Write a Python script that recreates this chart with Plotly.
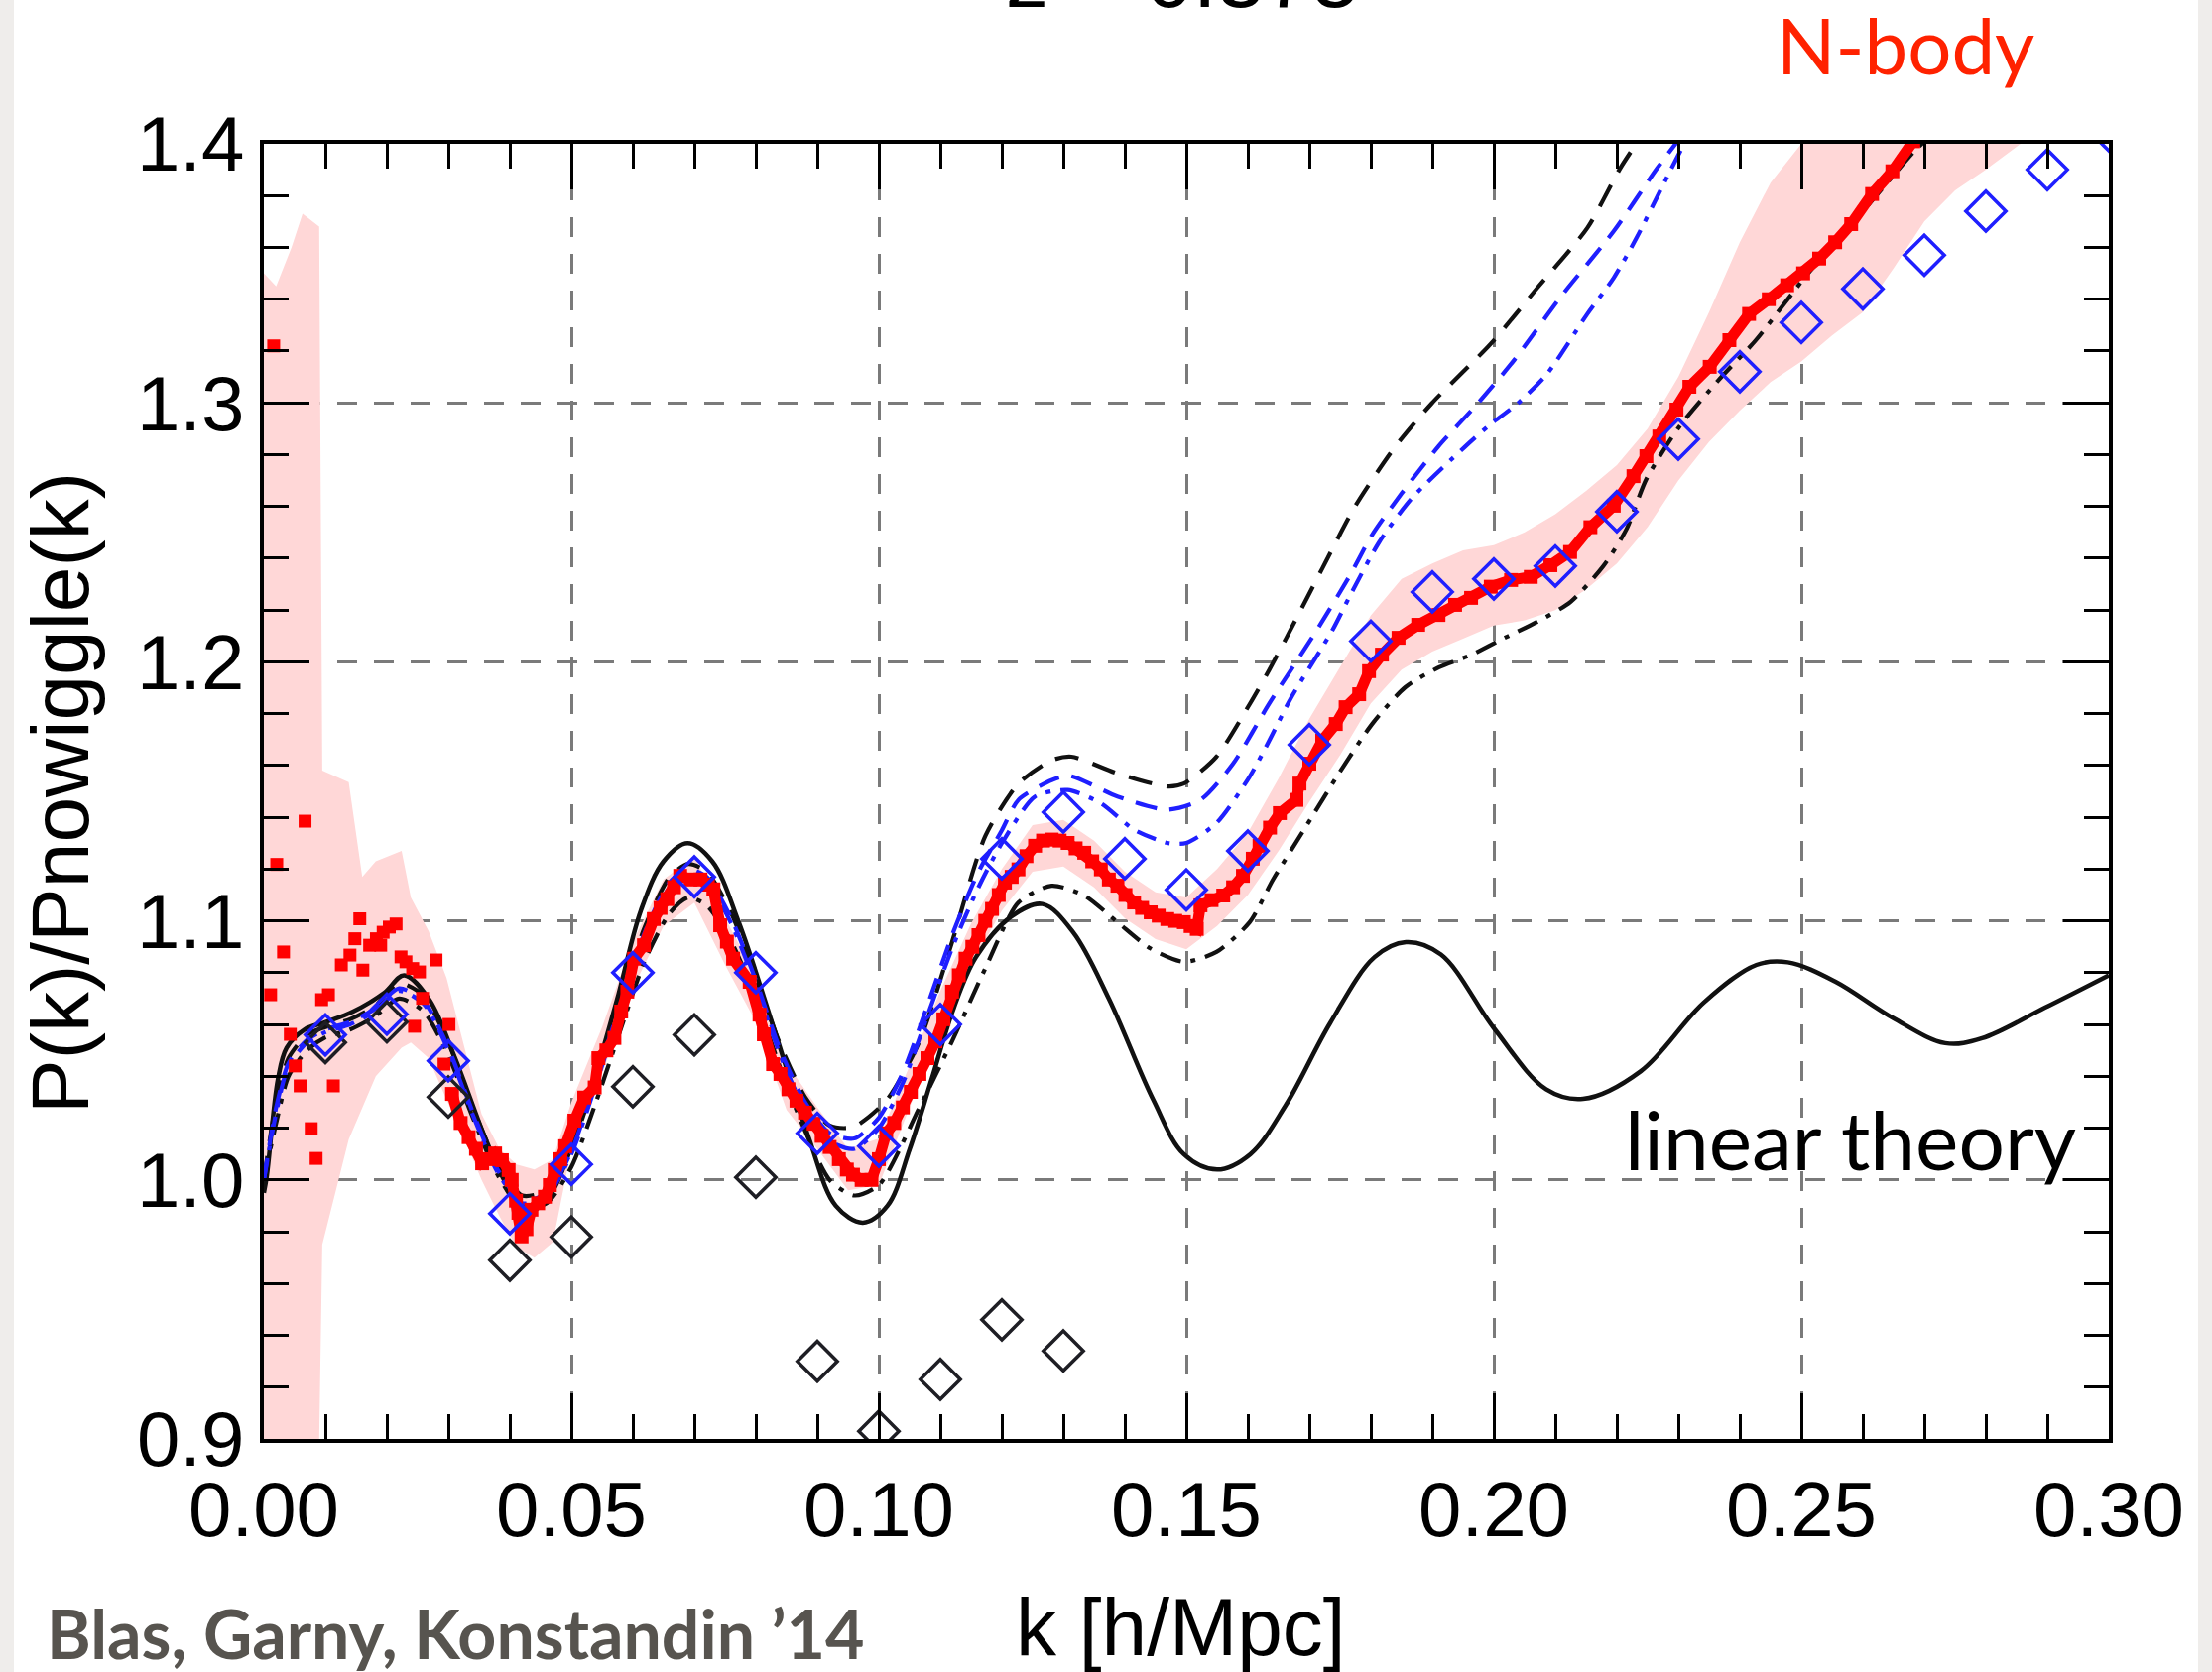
import plotly.graph_objects as go

# ---------------- data ----------------
# linear theory (solid black)
lin_k = [0.0, 0.0005, 0.0023, 0.0037, 0.0066, 0.0102, 0.0145, 0.0196, 0.0228, 0.0268, 0.0311, 0.0361, 0.0398,
         0.0434, 0.047, 0.0498, 0.0542, 0.0577, 0.0613, 0.065, 0.0689, 0.0729, 0.0772, 0.083, 0.0887, 0.093,
         0.0974, 0.1014, 0.105, 0.1086, 0.1122, 0.1158, 0.1215, 0.1266, 0.1316, 0.1374, 0.1446, 0.1496, 0.155,
         0.1604, 0.1662, 0.1734, 0.1806, 0.1857, 0.1914, 0.2, 0.2085, 0.2145, 0.2239, 0.2341, 0.2427, 0.2478,
         0.2555, 0.2649, 0.2734, 0.2794, 0.2896, 0.3]
lin_v = [0.995, 1.002, 1.039, 1.051, 1.058, 1.061, 1.065, 1.0723, 1.079, 1.070, 1.047, 1.0156, 0.997,
         0.988, 0.996, 1.012, 1.043, 1.072, 1.104, 1.123, 1.130, 1.123, 1.0996, 1.058, 1.0156, 0.990,
         0.9835, 0.990, 1.0118, 1.039, 1.0665, 1.086, 1.1016, 1.1065, 1.0956, 1.070, 1.031, 1.0099, 1.004,
         1.0099, 1.029, 1.0606, 1.086, 1.0918, 1.087, 1.0586, 1.035, 1.0313, 1.042, 1.0684, 1.083, 1.084,
         1.0766, 1.0625, 1.0528, 1.0547, 1.0665, 1.079]

# upper black dashed model
bd_k = [0.0, 0.002, 0.004, 0.007, 0.01, 0.014, 0.018, 0.022, 0.026, 0.03, 0.034, 0.038, 0.042, 0.046, 0.05,
        0.054, 0.058, 0.062, 0.066, 0.069, 0.072, 0.076, 0.08, 0.084, 0.088, 0.092, 0.0958, 0.1012, 0.1066,
        0.1119, 0.1173, 0.1227, 0.1281, 0.1313, 0.1388, 0.1469, 0.1496, 0.1549, 0.1603, 0.1635, 0.1662,
        0.1721, 0.1775, 0.184, 0.1899, 0.1995, 0.2071, 0.2152, 0.2205, 0.2237]
bd_v = [1.0, 1.03, 1.047, 1.056, 1.059, 1.062, 1.067, 1.076, 1.071, 1.053, 1.028, 1.006, 0.994, 0.996, 1.012,
        1.04, 1.07, 1.098, 1.117, 1.122, 1.119, 1.103, 1.078, 1.052, 1.032, 1.021, 1.0204, 1.0306, 1.0535,
        1.0918, 1.1327, 1.153, 1.162, 1.1634, 1.1569, 1.1519, 1.153, 1.1634, 1.1837, 1.197, 1.209,
        1.236, 1.2603, 1.2832, 1.2998, 1.3228, 1.3445, 1.3675, 1.3904, 1.402]

# blue dashed model
bl_k = [0.0, 0.002, 0.004, 0.007, 0.01, 0.014, 0.018, 0.022, 0.026, 0.03, 0.034, 0.038, 0.042, 0.046, 0.05,
        0.054, 0.058, 0.062, 0.066, 0.069, 0.072, 0.076, 0.08, 0.084, 0.088, 0.092, 0.096, 0.1, 0.104, 0.108,
        0.112, 0.116, 0.12, 0.1227, 0.1281, 0.131, 0.1388, 0.1469, 0.1523, 0.1576, 0.1635, 0.1711, 0.1765,
        0.1802, 0.185, 0.191, 0.1974, 0.2033, 0.2108, 0.2195, 0.2265, 0.2302]
bl_v = [1.0, 1.028, 1.045, 1.054, 1.058, 1.061, 1.066, 1.074, 1.069, 1.051, 1.026, 1.004, 0.992, 0.995, 1.011,
        1.039, 1.068, 1.096, 1.115, 1.12, 1.117, 1.101, 1.077, 1.05, 1.03, 1.018, 1.016, 1.024, 1.042, 1.068,
        1.095, 1.118, 1.135, 1.1467, 1.1543, 1.156, 1.148, 1.1429, 1.1467, 1.1607, 1.184, 1.2118, 1.233,
        1.249, 1.265, 1.2832, 1.2998, 1.3165, 1.3407, 1.3663, 1.3904, 1.402]

# blue dash-dot model
bdd_k = [0.0, 0.002, 0.004, 0.007, 0.01, 0.014, 0.018, 0.022, 0.026, 0.03, 0.034, 0.038, 0.042, 0.046, 0.05,
         0.054, 0.058, 0.062, 0.066, 0.069, 0.072, 0.076, 0.08, 0.084, 0.088, 0.092, 0.096, 0.1, 0.104, 0.108,
         0.112, 0.116, 0.12, 0.1254, 0.1307, 0.1361, 0.1415, 0.1469, 0.15, 0.1549, 0.1603, 0.1635, 0.167,
         0.1737, 0.1765, 0.1813, 0.1866, 0.1953, 0.1996, 0.2039, 0.2087, 0.2152, 0.2195, 0.2232, 0.2275, 0.232]
bdd_v = [1.0, 1.026, 1.044, 1.053, 1.057, 1.06, 1.065, 1.073, 1.068, 1.05, 1.025, 1.003, 0.991, 0.994, 1.01,
         1.037, 1.066, 1.094, 1.113, 1.118, 1.115, 1.099, 1.075, 1.048, 1.027, 1.015, 1.012, 1.02, 1.038, 1.064,
         1.09, 1.112, 1.13, 1.148, 1.1505, 1.1454, 1.1352, 1.1301, 1.1301, 1.1378, 1.1557, 1.1697, 1.186,
         1.212, 1.225, 1.246, 1.263, 1.283, 1.292, 1.2998, 1.3113, 1.3343, 1.3483, 1.3637, 1.384, 1.405]

# lower black dash-dot model
kdd_k = [0.0, 0.002, 0.004, 0.007, 0.01, 0.014, 0.018, 0.022, 0.026, 0.03, 0.034, 0.038, 0.042, 0.046, 0.05,
         0.054, 0.058, 0.062, 0.066, 0.069, 0.072, 0.076, 0.08, 0.084, 0.088, 0.092, 0.096, 0.1, 0.1066, 0.1119,
         0.1173, 0.1227, 0.1281, 0.1334, 0.1388, 0.1442, 0.1496, 0.1549, 0.1603, 0.1641, 0.1695, 0.1748,
         0.1802, 0.1856, 0.191, 0.1963, 0.2017, 0.2071, 0.2125, 0.2179, 0.2216, 0.2248, 0.2302, 0.2366,
         0.2426, 0.2511, 0.2598, 0.2682, 0.2705]
kdd_v = [1.0, 1.022, 1.04, 1.05, 1.055, 1.058, 1.063, 1.07, 1.065, 1.048, 1.024, 1.002, 0.989, 0.991, 1.005,
         1.03, 1.058, 1.085, 1.103, 1.109, 1.106, 1.092, 1.07, 1.043, 1.019, 1.0, 0.994, 0.998, 1.028, 1.0535,
         1.0816, 1.1071, 1.1136, 1.1098, 1.0995, 1.0893, 1.0842, 1.088, 1.0995, 1.116, 1.1366, 1.1569,
         1.176, 1.1902, 1.1978, 1.2027, 1.2092, 1.2155, 1.2232, 1.2373, 1.2514, 1.2706, 1.2909, 1.3089,
         1.3242, 1.35, 1.3733, 1.3967, 1.402]

# N-body: scattered low-k points
nbs_k = [0.0011, 0.0016, 0.0021, 0.0032, 0.0043, 0.0051, 0.0059, 0.0067, 0.0077, 0.0085, 0.0094, 0.0105, 0.0113,
         0.0126, 0.014, 0.0148, 0.0156, 0.0161, 0.0172, 0.0183, 0.019, 0.0194, 0.0204, 0.0215, 0.0223, 0.0231,
         0.0242, 0.0245, 0.0253, 0.0258, 0.028, 0.0293, 0.0301]
nbs_v = [1.0715, 1.322, 1.1218, 1.088, 1.0562, 1.044, 1.0363, 1.1385, 1.0198, 1.0083, 1.0696, 1.0715, 1.0363,
         1.083, 1.0868, 1.0931, 1.1008, 1.081, 1.0906, 1.0931, 1.0906, 1.0956, 1.0976, 1.0988, 1.0861, 1.0842,
         1.0816, 1.0593, 1.0803, 1.0701, 1.0849, 1.0447, 1.06]

# N-body: dense points
nb_k = [0.0306, 0.032, 0.0333, 0.0345, 0.0355, 0.0366, 0.0376, 0.0387, 0.0398, 0.0403, 0.041, 0.0414, 0.0419,
        0.0427, 0.0435, 0.0446, 0.0457, 0.0465, 0.0473, 0.0482, 0.049, 0.0505, 0.0521, 0.0538, 0.0544, 0.0557,
        0.057, 0.0581, 0.0591, 0.0602, 0.0618, 0.0634, 0.0645, 0.0656, 0.0667, 0.0677, 0.0694, 0.071, 0.0722,
        0.0731, 0.0742, 0.0753, 0.0763, 0.079, 0.0806, 0.0813, 0.0828, 0.084, 0.0853, 0.0866, 0.088, 0.0894,
        0.0907, 0.092, 0.0935, 0.0948, 0.0958, 0.0972, 0.0988, 0.1, 0.1012, 0.1025, 0.1039, 0.1052, 0.1066,
        0.1079, 0.1092, 0.1105, 0.1119, 0.113, 0.1141, 0.1152, 0.1162, 0.1173, 0.1184, 0.1195, 0.1205, 0.1216,
        0.1227, 0.124, 0.1254, 0.1267, 0.1281, 0.1294, 0.1307, 0.132, 0.1334, 0.1347, 0.1361, 0.1374, 0.1388,
        0.1401, 0.1415, 0.1428, 0.1442, 0.1455, 0.1469, 0.1482, 0.1496, 0.1507, 0.1517, 0.1523, 0.1541, 0.156,
        0.1576, 0.1592, 0.1608, 0.1619, 0.1636, 0.1652, 0.1679, 0.1684, 0.17, 0.1721, 0.1743, 0.1759, 0.1781,
        0.1797, 0.1818, 0.1845, 0.1877, 0.191, 0.1937, 0.1963, 0.1995, 0.2028, 0.206, 0.2092, 0.2124, 0.2157,
        0.2195, 0.2227, 0.2248, 0.2269, 0.2297, 0.2318, 0.2351, 0.2383, 0.2415, 0.2447, 0.2477, 0.2503, 0.2529,
        0.2555, 0.2581, 0.2615, 0.2648, 0.2682]
nb_v = [1.0332, 1.022, 1.0165, 1.012, 1.0064, 1.008, 1.0102, 1.0076, 1.0038, 1.0, 0.992, 0.9873, 0.9782,
        0.981, 0.9885, 0.991, 0.9935, 0.998, 1.0038, 1.008, 1.013, 1.0229, 1.0318, 1.0357, 1.047, 1.05,
        1.0548, 1.065, 1.0727, 1.0854, 1.0906, 1.1007, 1.105, 1.1084, 1.113, 1.1174, 1.116, 1.116, 1.114,
        1.1122, 1.0983, 1.092, 1.0854, 1.0765, 1.0638, 1.0562, 1.0447, 1.0409, 1.035, 1.0306, 1.026, 1.0217,
        1.017, 1.0127, 1.008, 1.004, 1.002, 1.0, 1.0, 1.008, 1.018, 1.022, 1.028, 1.034, 1.0409,
        1.047, 1.0535, 1.062, 1.0727, 1.079, 1.0854, 1.09, 1.0945, 1.1, 1.1046, 1.11, 1.1148, 1.117,
        1.1199, 1.125, 1.129, 1.131, 1.1314, 1.131, 1.1301, 1.128, 1.1263, 1.123, 1.1199, 1.116, 1.1136,
        1.11, 1.1071, 1.105, 1.1033, 1.102, 1.1007, 1.1, 1.0995, 1.098, 1.0969, 1.106, 1.108, 1.1098,
        1.113, 1.1174, 1.124, 1.129, 1.136, 1.1416, 1.1467, 1.153, 1.1607, 1.1696, 1.176, 1.1825, 1.1875,
        1.1964, 1.2028, 1.2093, 1.2143, 1.2181, 1.222, 1.2247, 1.229, 1.2316, 1.2328, 1.2373, 1.2424, 1.252,
        1.2603, 1.2717, 1.2794, 1.287, 1.2974, 1.3062, 1.3139, 1.3242, 1.3343, 1.34, 1.3454, 1.35, 1.3557,
        1.362, 1.369, 1.3806, 1.3894, 1.401]

# N-body error band
band_k = [0.0, 0.002, 0.0045, 0.0063, 0.009, 0.0095, 0.0138, 0.016, 0.0182, 0.0224, 0.0239, 0.0268, 0.0297,
          0.0326, 0.0354, 0.0383, 0.0411, 0.044, 0.047, 0.05, 0.055, 0.06, 0.065, 0.07, 0.075, 0.08, 0.085,
          0.09, 0.095, 0.1, 0.105, 0.11, 0.115, 0.12, 0.125, 0.13, 0.135, 0.14, 0.145, 0.15, 0.155, 0.16,
          0.165, 0.17, 0.175, 0.18, 0.185, 0.19, 0.195, 0.2, 0.205, 0.21, 0.215, 0.22, 0.225, 0.23, 0.235,
          0.24, 0.245, 0.25, 0.255, 0.26, 0.265, 0.27, 0.275, 0.28, 0.2862]
band_hi = [1.35, 1.345, 1.36, 1.373, 1.368, 1.158, 1.1535, 1.117, 1.123, 1.127, 1.109, 1.096, 1.078,
           1.051, 1.0255, 1.012, 1.006, 1.004, 1.008, 1.03, 1.059, 1.092, 1.116, 1.125, 1.101, 1.079, 1.045,
           1.028, 1.012, 1.016, 1.044, 1.073, 1.099, 1.12, 1.137, 1.139, 1.131, 1.119, 1.111, 1.109, 1.12, 1.134,
           1.155, 1.178, 1.198, 1.218, 1.232, 1.238, 1.243, 1.245, 1.25, 1.257, 1.266, 1.276, 1.29, 1.31, 1.335,
           1.362, 1.385, 1.40, 1.42, 1.42, 1.42, 1.42, 1.42, 1.42, 1.42]
band_lo = [0.9, 0.9, 0.9, 0.9, 0.9, 0.975, 1.0156, 1.028, 1.04, 1.051, 1.053, 1.047, 1.031,
           1.016, 1.0, 0.986, 0.974, 0.970, 0.976, 1.012, 1.041, 1.074, 1.098, 1.107, 1.083, 1.061, 1.027,
           1.012, 0.996, 0.998, 1.028, 1.057, 1.083, 1.104, 1.119, 1.121, 1.113, 1.101, 1.093, 1.089, 1.098, 1.11,
           1.127, 1.146, 1.164, 1.184, 1.197, 1.204, 1.209, 1.214, 1.216, 1.22, 1.228, 1.238, 1.252, 1.27, 1.285,
           1.297, 1.308, 1.316, 1.326, 1.335, 1.352, 1.37, 1.382, 1.39, 1.401]

# blue open diamonds
bdia_k = [0.01, 0.02, 0.03, 0.04, 0.05, 0.06, 0.07, 0.08, 0.09, 0.10, 0.11, 0.12, 0.13, 0.14, 0.15, 0.16,
          0.17, 0.18, 0.19, 0.20, 0.21, 0.22, 0.23, 0.24, 0.25, 0.26, 0.27, 0.28, 0.29, 0.30]
bdia_v = [1.056, 1.064, 1.046, 0.987, 1.006, 1.080, 1.117, 1.080, 1.018, 1.013, 1.060, 1.124, 1.142, 1.124,
          1.112, 1.127, 1.168, 1.208, 1.227, 1.232, 1.237, 1.258, 1.286, 1.312, 1.331, 1.344, 1.357, 1.374,
          1.390, 1.405]

# black open diamonds
kdia_k = [0.01, 0.02, 0.03, 0.04, 0.05, 0.06, 0.07, 0.08, 0.09, 0.10, 0.11, 0.12, 0.13]
kdia_v = [1.053, 1.061, 1.032, 0.969, 0.978, 1.036, 1.056, 1.001, 0.930, 0.903, 0.923, 0.946, 0.934]

x_range = [0.0, 0.30]
y_range = [0.9, 1.4]

# ---------------- layout geometry (pixels) ----------------
W, H = 2230, 1686
ML, MR, MT, MB = 266, 104, 145, 235
PW, PH = W - ML - MR, H - MT - MB


def px_x(px):
    return (px - ML) / PW


def px_y(py):
    return (H - MB - py) / PH


RED = '#ff0000'
BLUE = '#1f1fff'
BLACK = '#111111'

fig = go.Figure()

# error band
fig.add_trace(go.Scatter(
    x=band_k + band_k[::-1], y=band_hi + band_lo[::-1],
    fill='toself', fillcolor='#ffd7d7', line=dict(width=0, color='rgba(0,0,0,0)'),
    mode='lines', hoverinfo='skip', showlegend=False))

# linear theory
fig.add_trace(go.Scatter(x=lin_k, y=lin_v, mode='lines',
                         line=dict(color=BLACK, width=4.5, shape='spline', smoothing=1.0), showlegend=False))
# model curves
fig.add_trace(go.Scatter(x=kdd_k, y=kdd_v, mode='lines',
                         line=dict(color=BLACK, width=4.2, dash='22px,10px,5px,10px', shape='spline', smoothing=0.7),
                         showlegend=False))
fig.add_trace(go.Scatter(x=bd_k, y=bd_v, mode='lines',
                         line=dict(color=BLACK, width=4.2, dash='24px,15px', shape='spline', smoothing=0.7),
                         showlegend=False))
fig.add_trace(go.Scatter(x=bl_k, y=bl_v, mode='lines',
                         line=dict(color=BLUE, width=4.2, dash='22px,13px', shape='spline', smoothing=0.7),
                         showlegend=False))
fig.add_trace(go.Scatter(x=bdd_k, y=bdd_v, mode='lines',
                         line=dict(color=BLUE, width=4.2, dash='20px,10px,5px,10px', shape='spline', smoothing=0.7),
                         showlegend=False))

# N-body points
fig.add_trace(go.Scatter(x=nbs_k, y=nbs_v, mode='markers',
                         marker=dict(symbol='square', size=13, color=RED, line=dict(width=0)), showlegend=False))
fig.add_trace(go.Scatter(x=nb_k, y=nb_v, mode='lines+markers',
                         line=dict(color=RED, width=11),
                         marker=dict(symbol='square', size=14, color=RED, line=dict(width=0)), showlegend=False))

# diamonds
fig.add_trace(go.Scatter(x=kdia_k, y=kdia_v, mode='markers',
                         marker=dict(symbol='diamond-open', size=31, color='#1e1e24', line=dict(width=3.5)),
                         showlegend=False))
fig.add_trace(go.Scatter(x=bdia_k, y=bdia_v, mode='markers',
                         marker=dict(symbol='diamond-open', size=31, color=BLUE, line=dict(width=3.5)),
                         showlegend=False))

tickfont = dict(family='Liberation Sans, Arial, sans-serif', size=78, color='black')
common = dict(showline=True, linecolor='black', linewidth=4, mirror='allticks',
              ticks='inside', tickwidth=3, tickcolor='black',
              showgrid=True, gridcolor='#7a7a7a', gridwidth=3, griddash='20px,17px',
              zeroline=False, tickfont=tickfont)

fig.update_xaxes(range=x_range, dtick=0.05, tick0=0, ticklen=46, tickformat='.2f',
                 minor=dict(dtick=0.01, tick0=0, ticks='inside', ticklen=25, tickwidth=3, tickcolor='black',
                            showgrid=False),
                 **common)
fig.update_yaxes(range=y_range, dtick=0.1, tick0=0.9, ticklen=46, tickformat='.1f',
                 minor=dict(dtick=0.02, tick0=0.9, ticks='inside', ticklen=25, tickwidth=3, tickcolor='black',
                            showgrid=False),
                 **common)

annotations = [
    dict(text='z = 0.375', x=px_x(1192), y=px_y(-23), xref='paper', yref='paper', xanchor='center',
         yanchor='middle', showarrow=False, font=dict(family='Liberation Sans', size=86, color='black')),
    dict(text='N-body', x=px_x(1921), y=px_y(45), xref='paper', yref='paper', xanchor='center',
         yanchor='middle', showarrow=False, font=dict(family='Lato', size=78, color='#ff2200')),
    dict(text='linear theory', x=px_x(1865), y=px_y(1148), xref='paper', yref='paper', xanchor='center',
         yanchor='middle', showarrow=False, font=dict(family='Lato', size=82, color='black')),
    dict(text='k [h/Mpc]', x=px_x(1190), y=px_y(1640), xref='paper', yref='paper', xanchor='center',
         yanchor='middle', showarrow=False, font=dict(family='Liberation Sans', size=82, color='black')),
    dict(text='P(k)/Pnowiggle(k)', x=px_x(60), y=px_y(800), xref='paper', yref='paper', xanchor='center',
         yanchor='middle', textangle=-90, showarrow=False,
         font=dict(family='Liberation Sans', size=82, color='black')),
    dict(text='Blas, Garny, Konstandin \u201914', x=px_x(45), y=px_y(1646), xref='paper', yref='paper',
         xanchor='left', yanchor='middle', showarrow=False,
         font=dict(family='Lato', size=68, color='#57544f', weight='bold')),
]

shapes = [
    dict(type='rect', xref='paper', yref='paper', x0=px_x(0), x1=px_x(14), y0=px_y(H), y1=px_y(0),
         fillcolor='#efedeb', line=dict(width=0), layer='below'),
    dict(type='rect', xref='paper', yref='paper', x0=px_x(2216), x1=px_x(W), y0=px_y(H), y1=px_y(0),
         fillcolor='#efedeb', line=dict(width=0), layer='below'),
]

fig.update_layout(width=W, height=H, autosize=False,
                  margin=dict(l=ML, r=MR, t=MT, b=MB, pad=0),
                  paper_bgcolor='white', plot_bgcolor='white',
                  showlegend=False, annotations=annotations, shapes=shapes)

fig.write_html('out.html', include_plotlyjs=True, config={'displayModeBar': False},
               post_script="document.body.style.margin='0';")
